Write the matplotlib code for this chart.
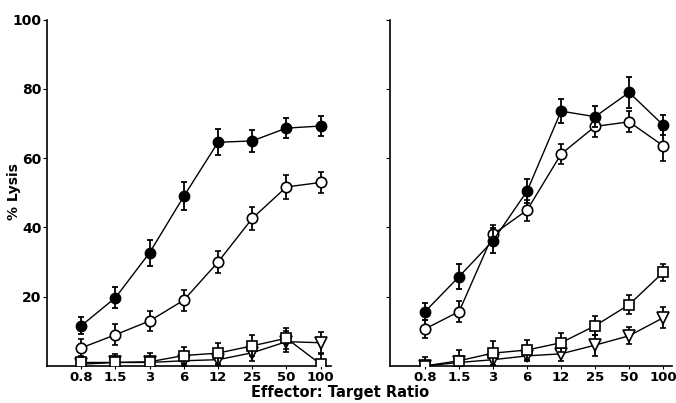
import matplotlib
matplotlib.use("Agg")
import matplotlib.pyplot as plt
import numpy as np

ratios = ["0.8", "1.5", "3", "6", "12", "25", "50", "100"]

# left panel
left_filled = [11.6, 19.7, 32.7, 49.0, 64.6, 65.0, 68.7, 69.3]
left_filled_err = [2.5, 3.0, 3.8, 4.0, 3.8, 3.2, 3.0, 2.8]
left_open = [5.2, 9.0, 13.0, 19.0, 30.0, 42.6, 51.7, 53.0]
left_open_err = [2.5, 3.0, 2.8, 3.0, 3.2, 3.2, 3.5, 3.0]
left_square = [1.0, 1.0, 1.2, 3.0, 3.7, 5.8, 8.0, 0.5]
left_square_err = [2.0, 2.5, 2.5, 2.5, 3.0, 3.0, 3.0, 3.0]
left_tri = [0.5, 1.0, 1.0, 1.5, 1.8, 3.8, 7.0, 6.7]
left_tri_err = [1.0, 1.0, 1.0, 1.5, 1.5, 2.5, 3.0, 3.0]

# right panel
right_filled = [15.7, 25.8, 36.2, 50.5, 73.6, 72.0, 79.0, 69.6]
right_filled_err = [2.5, 3.5, 3.5, 3.5, 3.5, 3.0, 4.5, 2.8]
right_open = [10.7, 15.7, 38.0, 45.0, 61.2, 69.2, 70.5, 63.6]
right_open_err = [2.5, 3.0, 2.8, 3.0, 3.0, 3.0, 3.0, 4.5]
right_square = [0.0, 1.5, 3.7, 4.6, 6.7, 11.6, 17.7, 27.0]
right_square_err = [2.5, 3.0, 3.5, 3.0, 2.8, 2.8, 2.8, 2.5]
right_tri = [0.0, 1.0, 1.8, 2.9, 3.5, 6.0, 8.7, 13.9]
right_tri_err = [1.0, 1.0, 1.5, 1.5, 2.0, 3.0, 2.5, 3.0]

plt.rcParams["font.family"] = ["DejaVu Sans"]
plt.rcParams["font.weight"] = "bold"

fig = plt.figure(figsize=(6.76, 4.03), dpi=100)
ax1 = fig.add_axes([0.0695, 0.092, 0.42, 0.859])
ax2 = fig.add_axes([0.577, 0.092, 0.417, 0.859])

x = np.arange(len(ratios))


def draw(ax, filled, filled_err, opn, opn_err, sq, sq_err, tri, tri_err):
    style = dict(color="black", lw=1.0, elinewidth=1.3, capsize=2, capthick=1.3)
    ax.errorbar(x, tri, yerr=tri_err, marker="v", ms=8, mfc="white", mec="black",
                mew=1.2, zorder=3, **style)
    ax.errorbar(x, sq, yerr=sq_err, marker="s", ms=7, mfc="white", mec="black",
                mew=1.2, zorder=4, **style)
    ax.errorbar(x, opn, yerr=opn_err, marker="o", ms=7.5, mfc="white", mec="black",
                mew=1.2, zorder=5, **style)
    ax.errorbar(x, filled, yerr=filled_err, marker="o", ms=7.5, mfc="black", mec="black",
                zorder=6, **style)
    ax.set_xlim(-1.0, 7.3)
    ax.set_ylim(0, 100)
    ax.set_xticks(x)
    ax.set_xticklabels(ratios, fontsize=9.5, fontweight="bold")
    ax.set_yticks([20, 40, 60, 80, 100])
    ax.spines["top"].set_visible(False)
    ax.spines["right"].set_visible(False)
    ax.spines["left"].set_linewidth(1.2)
    ax.spines["bottom"].set_linewidth(1.2)
    ax.tick_params(axis="x", length=2, pad=2)
    ax.tick_params(axis="y", length=3, pad=1, labelsize=10)


draw(ax1, left_filled, left_filled_err, left_open, left_open_err,
     left_square, left_square_err, left_tri, left_tri_err)
draw(ax2, right_filled, right_filled_err, right_open, right_open_err,
     right_square, right_square_err, right_tri, right_tri_err)
ax2.set_xlim(-1.03, 7.26)
ax2.tick_params(axis="y", labelleft=False)

for lab in ax1.get_yticklabels():
    lab.set_fontweight("bold")

fig.text(0.021, 0.525, "% Lysis", rotation=90, ha="center", va="center",
         fontsize=10, fontweight="bold")
fig.text(0.503, 0.025, "Effector: Target Ratio", ha="center", va="center",
         fontsize=10.5, fontweight="bold")

fig.savefig("out.png", dpi=100)
